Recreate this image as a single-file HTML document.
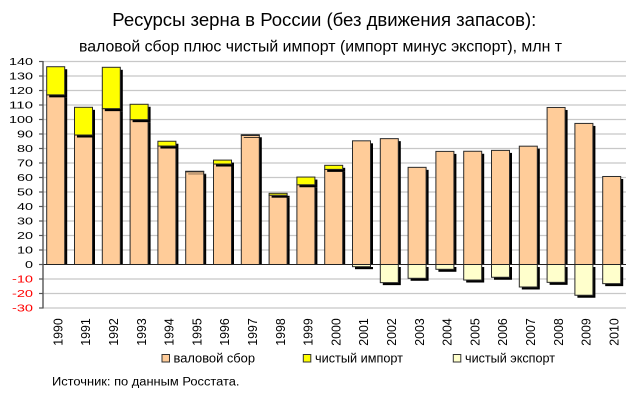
<!DOCTYPE html>
<html>
<head>
<meta charset="utf-8">
<style>
html,body{margin:0;padding:0;background:#fff;}
svg{display:block;}
text{font-family:"Liberation Sans","Noto Sans CJK SC",sans-serif;}
</style>
</head>
<body>
<svg width="640" height="400" viewBox="0 0 640 400" xmlns="http://www.w3.org/2000/svg">
<rect x="0" y="0" width="640" height="400" fill="#fff"/>
<!-- titles -->
<text x="112.3" y="26" font-size="18" fill="#000" textLength="424" lengthAdjust="spacingAndGlyphs">Ресурсы зерна в России (без движения запасов):</text>
<text x="79" y="51.5" font-size="16" fill="#000" textLength="483" lengthAdjust="spacingAndGlyphs">валовой сбор плюс чистый импорт (импорт минус экспорт), млн т</text>

<!-- gridlines -->
<g stroke="#c8c8c8" stroke-width="1.2">
<line x1="43" x2="626" y1="61.5" y2="61.5"/>
<line x1="43" x2="626" y1="76" y2="76"/>
<line x1="43" x2="626" y1="90.5" y2="90.5"/>
<line x1="43" x2="626" y1="105" y2="105"/>
<line x1="43" x2="626" y1="119.5" y2="119.5"/>
<line x1="43" x2="626" y1="134" y2="134"/>
<line x1="43" x2="626" y1="148.5" y2="148.5"/>
<line x1="43" x2="626" y1="163" y2="163"/>
<line x1="43" x2="626" y1="177.5" y2="177.5"/>
<line x1="43" x2="626" y1="192" y2="192"/>
<line x1="43" x2="626" y1="206.5" y2="206.5"/>
<line x1="43" x2="626" y1="221" y2="221"/>
<line x1="43" x2="626" y1="235.5" y2="235.5"/>
<line x1="43" x2="626" y1="250" y2="250"/>
<line x1="43" x2="626" y1="279" y2="279"/>
<line x1="43" x2="626" y1="293.5" y2="293.5"/>
<line x1="43" x2="626" y1="308" y2="308"/>
</g>

<!-- gross: shadows (clipped at zero) -->
<g fill="#000">
<rect x="49.2" y="97.35" width="18" height="167.15"/>
<rect x="77" y="137.51" width="18" height="126.99"/>
<rect x="104.8" y="111.13" width="18" height="153.37"/>
<rect x="132.6" y="122.15" width="18" height="142.35"/>
<rect x="160.4" y="148.54" width="18" height="115.96"/>
<rect x="188.2" y="174.2" width="18" height="90.3"/>
<rect x="216" y="166.52" width="18" height="97.98"/>
<rect x="243.8" y="137.95" width="18" height="126.55"/>
<rect x="271.6" y="197.69" width="18" height="66.81"/>
<rect x="299.4" y="187.25" width="18" height="77.25"/>
<rect x="327.2" y="171.88" width="18" height="92.62"/>
<rect x="355" y="143.32" width="18" height="121.18"/>
<rect x="382.8" y="141.14" width="18" height="123.36"/>
<rect x="410.6" y="169.85" width="18" height="94.65"/>
<rect x="438.4" y="153.9" width="18" height="110.6"/>
<rect x="466.2" y="153.76" width="18" height="110.74"/>
<rect x="494" y="152.89" width="18" height="111.61"/>
<rect x="521.8" y="148.68" width="18" height="115.82"/>
<rect x="549.6" y="109.97" width="18" height="154.53"/>
<rect x="577.4" y="125.92" width="18" height="138.58"/>
<rect x="605.2" y="178.99" width="18" height="85.51"/>
</g>
<g fill="#FFCC99" stroke="#2a2a2a" stroke-width="1">
<rect x="46.7" y="94.85" width="18" height="169.65"/>
<rect x="74.5" y="135.01" width="18" height="129.49"/>
<rect x="102.3" y="108.63" width="18" height="155.88"/>
<rect x="130.1" y="119.65" width="18" height="144.86"/>
<rect x="157.9" y="146.04" width="18" height="118.47"/>
<rect x="185.7" y="171.7" width="18" height="92.8"/>
<rect x="213.5" y="164.02" width="18" height="100.49"/>
<rect x="241.3" y="135.45" width="18" height="129.05"/>
<rect x="269.1" y="195.19" width="18" height="69.31"/>
<rect x="296.9" y="184.75" width="18" height="79.75"/>
<rect x="324.7" y="169.38" width="18" height="95.12"/>
<rect x="352.5" y="140.82" width="18" height="123.69"/>
<rect x="380.3" y="138.64" width="18" height="125.86"/>
<rect x="408.1" y="167.35" width="18" height="97.15"/>
<rect x="435.9" y="151.4" width="18" height="113.1"/>
<rect x="463.7" y="151.26" width="18" height="113.25"/>
<rect x="491.5" y="150.39" width="18" height="114.12"/>
<rect x="519.3" y="146.18" width="18" height="118.32"/>
<rect x="547.1" y="107.47" width="18" height="157.04"/>
<rect x="574.9" y="123.42" width="18" height="141.09"/>
<rect x="602.7" y="176.49" width="18" height="88.02"/>
</g>

<!-- import: shadows -->
<g fill="#000">
<rect x="49.2" y="69.22" width="18" height="28.13"/>
<rect x="77" y="109.81" width="18" height="27.7"/>
<rect x="104.8" y="69.8" width="18" height="41.33"/>
<rect x="132.6" y="106.78" width="18" height="15.37"/>
<rect x="160.4" y="143.75" width="18" height="4.79"/>
<rect x="188.2" y="173.76" width="18" height="0.44"/>
<rect x="216" y="162.6" width="18" height="3.92"/>
<rect x="243.8" y="137.22" width="18" height="0.73"/>
<rect x="271.6" y="195.8" width="18" height="1.89"/>
<rect x="299.4" y="179.56" width="18" height="7.69"/>
<rect x="327.2" y="167.82" width="18" height="4.06"/>
</g>
<g fill="#FFFF00" stroke="#2a2a2a" stroke-width="1">
<rect x="46.7" y="66.72" width="18" height="28.13"/>
<rect x="74.5" y="107.31" width="18" height="27.7"/>
<rect x="102.3" y="67.3" width="18" height="41.33"/>
<rect x="130.1" y="104.28" width="18" height="15.37"/>
<rect x="157.9" y="141.25" width="18" height="4.79"/>
<rect x="185.7" y="171.26" width="18" height="0.44"/>
<rect x="213.5" y="160.1" width="18" height="3.92"/>
<rect x="241.3" y="134.72" width="18" height="0.73"/>
<rect x="269.1" y="193.3" width="18" height="1.89"/>
<rect x="296.9" y="177.06" width="18" height="7.69"/>
<rect x="324.7" y="165.32" width="18" height="4.06"/>
</g>

<!-- export: shadows -->
<g fill="#000">
<rect x="355" y="267" width="18" height="2.18"/>
<rect x="382.8" y="267" width="18" height="18.13"/>
<rect x="410.6" y="267" width="18" height="13.78"/>
<rect x="438.4" y="267" width="18" height="4.79"/>
<rect x="466.2" y="267" width="18" height="15.52"/>
<rect x="494" y="267" width="18" height="12.76"/>
<rect x="521.8" y="267" width="18" height="22.48"/>
<rect x="549.6" y="267" width="18" height="17.84"/>
<rect x="577.4" y="267" width="18" height="30.74"/>
<rect x="605.2" y="267" width="18" height="19.14"/>
</g>
<g fill="#FFFFCC" stroke="#2a2a2a" stroke-width="1">
<rect x="352.5" y="264.5" width="18" height="2.18"/>
<rect x="380.3" y="264.5" width="18" height="18.13"/>
<rect x="408.1" y="264.5" width="18" height="13.78"/>
<rect x="435.9" y="264.5" width="18" height="4.79"/>
<rect x="463.7" y="264.5" width="18" height="15.52"/>
<rect x="491.5" y="264.5" width="18" height="12.76"/>
<rect x="519.3" y="264.5" width="18" height="22.48"/>
<rect x="547.1" y="264.5" width="18" height="17.84"/>
<rect x="574.9" y="264.5" width="18" height="30.74"/>
<rect x="602.7" y="264.5" width="18" height="19.14"/>
</g>

<!-- zero line and axis -->
<line x1="43" x2="626" y1="264.5" y2="264.5" stroke="#222" stroke-width="1"/>
<line x1="43" x2="43" y1="61" y2="308.5" stroke="#555" stroke-width="1.4"/>
<g stroke="#555" stroke-width="1.2">
<line x1="39" x2="43" y1="61.5" y2="61.5"/>
<line x1="39" x2="43" y1="76" y2="76"/>
<line x1="39" x2="43" y1="90.5" y2="90.5"/>
<line x1="39" x2="43" y1="105" y2="105"/>
<line x1="39" x2="43" y1="119.5" y2="119.5"/>
<line x1="39" x2="43" y1="134" y2="134"/>
<line x1="39" x2="43" y1="148.5" y2="148.5"/>
<line x1="39" x2="43" y1="163" y2="163"/>
<line x1="39" x2="43" y1="177.5" y2="177.5"/>
<line x1="39" x2="43" y1="192" y2="192"/>
<line x1="39" x2="43" y1="206.5" y2="206.5"/>
<line x1="39" x2="43" y1="221" y2="221"/>
<line x1="39" x2="43" y1="235.5" y2="235.5"/>
<line x1="39" x2="43" y1="250" y2="250"/>
<line x1="39" x2="43" y1="264.5" y2="264.5"/>
<line x1="39" x2="43" y1="279" y2="279"/>
<line x1="39" x2="43" y1="293.5" y2="293.5"/>
<line x1="39" x2="43" y1="308" y2="308"/>
</g>

<!-- y labels -->
<g font-size="10.3" fill="#000" text-anchor="end">
<text x="33" y="65.2" textLength="24" lengthAdjust="spacingAndGlyphs">140</text>
<text x="33" y="79.7" textLength="24" lengthAdjust="spacingAndGlyphs">130</text>
<text x="33" y="94.2" textLength="24" lengthAdjust="spacingAndGlyphs">120</text>
<text x="33" y="108.7" textLength="24" lengthAdjust="spacingAndGlyphs">110</text>
<text x="33" y="123.2" textLength="24" lengthAdjust="spacingAndGlyphs">100</text>
<text x="33" y="137.7" textLength="16" lengthAdjust="spacingAndGlyphs">90</text>
<text x="33" y="152.2" textLength="16" lengthAdjust="spacingAndGlyphs">80</text>
<text x="33" y="166.7" textLength="16" lengthAdjust="spacingAndGlyphs">70</text>
<text x="33" y="181.2" textLength="16" lengthAdjust="spacingAndGlyphs">60</text>
<text x="33" y="195.7" textLength="16" lengthAdjust="spacingAndGlyphs">50</text>
<text x="33" y="210.2" textLength="16" lengthAdjust="spacingAndGlyphs">40</text>
<text x="33" y="224.7" textLength="16" lengthAdjust="spacingAndGlyphs">30</text>
<text x="33" y="239.2" textLength="16" lengthAdjust="spacingAndGlyphs">20</text>
<text x="33" y="253.7" textLength="16" lengthAdjust="spacingAndGlyphs">10</text>
<text x="33" y="268.2" textLength="8" lengthAdjust="spacingAndGlyphs">0</text>
</g>
<g font-size="10.3" fill="#ff0000" text-anchor="end">
<text x="33" y="282.7" textLength="21" lengthAdjust="spacingAndGlyphs">-10</text>
<text x="33" y="297.2" textLength="21" lengthAdjust="spacingAndGlyphs">-20</text>
<text x="33" y="311.7" textLength="21" lengthAdjust="spacingAndGlyphs">-30</text>
</g>

<!-- x labels -->
<g font-size="12.5" fill="#000">
<text transform="translate(62.4,345.7) rotate(-90)" textLength="27.4" lengthAdjust="spacingAndGlyphs">1990</text>
<text transform="translate(90.2,345.7) rotate(-90)" textLength="27.4" lengthAdjust="spacingAndGlyphs">1991</text>
<text transform="translate(118,345.7) rotate(-90)" textLength="27.4" lengthAdjust="spacingAndGlyphs">1992</text>
<text transform="translate(145.8,345.7) rotate(-90)" textLength="27.4" lengthAdjust="spacingAndGlyphs">1993</text>
<text transform="translate(173.6,345.7) rotate(-90)" textLength="27.4" lengthAdjust="spacingAndGlyphs">1994</text>
<text transform="translate(201.4,345.7) rotate(-90)" textLength="27.4" lengthAdjust="spacingAndGlyphs">1995</text>
<text transform="translate(229.2,345.7) rotate(-90)" textLength="27.4" lengthAdjust="spacingAndGlyphs">1996</text>
<text transform="translate(257,345.7) rotate(-90)" textLength="27.4" lengthAdjust="spacingAndGlyphs">1997</text>
<text transform="translate(284.8,345.7) rotate(-90)" textLength="27.4" lengthAdjust="spacingAndGlyphs">1998</text>
<text transform="translate(312.6,345.7) rotate(-90)" textLength="27.4" lengthAdjust="spacingAndGlyphs">1999</text>
<text transform="translate(340.4,345.7) rotate(-90)" textLength="27.4" lengthAdjust="spacingAndGlyphs">2000</text>
<text transform="translate(368.2,345.7) rotate(-90)" textLength="27.4" lengthAdjust="spacingAndGlyphs">2001</text>
<text transform="translate(396,345.7) rotate(-90)" textLength="27.4" lengthAdjust="spacingAndGlyphs">2002</text>
<text transform="translate(423.8,345.7) rotate(-90)" textLength="27.4" lengthAdjust="spacingAndGlyphs">2003</text>
<text transform="translate(451.6,345.7) rotate(-90)" textLength="27.4" lengthAdjust="spacingAndGlyphs">2004</text>
<text transform="translate(479.4,345.7) rotate(-90)" textLength="27.4" lengthAdjust="spacingAndGlyphs">2005</text>
<text transform="translate(507.2,345.7) rotate(-90)" textLength="27.4" lengthAdjust="spacingAndGlyphs">2006</text>
<text transform="translate(535,345.7) rotate(-90)" textLength="27.4" lengthAdjust="spacingAndGlyphs">2007</text>
<text transform="translate(562.8,345.7) rotate(-90)" textLength="27.4" lengthAdjust="spacingAndGlyphs">2008</text>
<text transform="translate(590.6,345.7) rotate(-90)" textLength="27.4" lengthAdjust="spacingAndGlyphs">2009</text>
<text transform="translate(618.4,345.7) rotate(-90)" textLength="27.4" lengthAdjust="spacingAndGlyphs">2010</text>
</g>

<!-- legend -->
<rect x="162" y="354.5" width="7.5" height="7.5" fill="#FFCC99" stroke="#333" stroke-width="1"/>
<text x="173.5" y="362.5" font-size="12.5" fill="#000" textLength="81.5" lengthAdjust="spacingAndGlyphs">валовой сбор</text>
<rect x="303.3" y="354.5" width="7.5" height="7.5" fill="#FFFF00" stroke="#333" stroke-width="1"/>
<text x="315" y="362.5" font-size="12.5" fill="#000" textLength="88" lengthAdjust="spacingAndGlyphs">чистый импорт</text>
<rect x="453.3" y="354.5" width="7.5" height="7.5" fill="#FFFFCC" stroke="#333" stroke-width="1"/>
<text x="465" y="362.5" font-size="12.5" fill="#000" textLength="90" lengthAdjust="spacingAndGlyphs">чистый экспорт</text>

<!-- source -->
<text x="52" y="385.7" font-size="11.5" fill="#000" textLength="187.5" lengthAdjust="spacingAndGlyphs">Источник: по данным Росстата.</text>
</svg>
</body>
</html>
